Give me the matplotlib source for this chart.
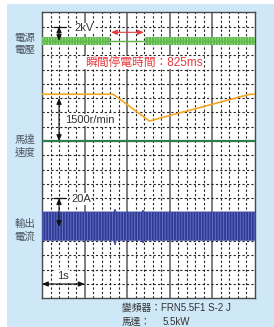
import matplotlib.pyplot as plt
from matplotlib.patches import Rectangle
import numpy as np

plt.rcParams['font.family'] = ['Liberation Sans', 'Noto Sans CJK TC', 'DejaVu Sans']
plt.rcParams['hatch.linewidth'] = 0.7

# supply voltage envelope (kV, 2 kV per division), outage 825 ms
volt_t = [0.0, 1.60, 1.60, 2.425, 2.425, 5.0]
volt_amp = [0.6, 0.6, 0.0, 0.0, 0.6, 0.6]

# motor speed (r/min, 1500 r/min = 3 divisions)
speed_t = [0.0, 1.67, 2.52, 4.88, 5.0]
speed_rpm = [1635, 1635, 700, 1635, 1635]

# output current envelope (A, 20 A = 2 divisions)
cur_t = [0.0, 1.68, 1.70, 1.73, 1.75, 2.34, 2.36, 2.39, 2.41, 5.0]
cur_hi = [10.6, 10.6, 12.4, 12.4, 10.6, 10.6, 11.7, 11.7, 10.6, 10.6]
cur_lo = [-9.7, -9.7, -12.7, -12.7, -9.7, -9.7, -11.3, -11.3, -9.7, -9.7]

# baselines in divisions (from bottom, 20 divisions total)
volt_zero, speed_zero, cur_zero = 18, 11, 5

fig = plt.figure(figsize=(2.74, 3.27), dpi=100)
fig.patch.set_facecolor('white')
fig.patches.append(Rectangle((7 / 274, 0), 1, 323 / 327, transform=fig.transFigure,
                             facecolor='#cfe8f7', edgecolor='none', zorder=-10))

ax = fig.add_axes([42 / 274, 28.7 / 327, 213 / 274, 286 / 327])
ax.set_facecolor('white')
ax.set_xlim(0, 5)
ax.set_ylim(0, 20)
ax.set_xticks(range(1, 5))
ax.set_xticks(np.arange(0, 5.01, 0.2), minor=True)
ax.set_yticks(range(1, 20))
ax.tick_params(which='both', length=0, labelbottom=False, labelleft=False)
ax.grid(which='major', axis='x', color='#5a5a5a', lw=1.1, ls='-')
ax.grid(which='minor', axis='x', color='#222222', lw=0.8, ls=(0, (2, 2)))
ax.grid(which='major', axis='y', color='#222222', lw=0.8, ls=(0, (2, 2)))
ax.set_axisbelow(True)
for s in ax.spines.values():
    s.set_color('#4a4a4a')
    s.set_linewidth(1.0)

# voltage
va = np.array(volt_amp) / 2
ax.fill_between(volt_t, volt_zero - va, volt_zero + va, facecolor='#5cb848',
                edgecolor='#9ad888', hatch='||||||', lw=0, zorder=3)
ax.plot([0, 5], [volt_zero, volt_zero], color='#5cb848', lw=1.0, zorder=3)

# speed
ax.axhline(speed_zero, color='#2f7d4a', lw=1.6, zorder=3)
ax.plot(speed_t, speed_zero + np.array(speed_rpm) / 500, color='#f5a623', lw=1.2, zorder=4)

# current
ax.fill_between(cur_t, cur_zero + np.array(cur_lo) / 10, cur_zero + np.array(cur_hi) / 10,
                facecolor='#2e3a96', edgecolor='#6470c0', hatch='||||||', lw=0, zorder=3)

# scale arrows
arrow = dict(arrowstyle='<|-|>,head_length=0.35,head_width=0.15', color='#111111', lw=0.8,
             shrinkA=0, shrinkB=0)
for y0, y1 in [(19, 18), (14, 11), (7, 5)]:
    ax.annotate('', xy=(0.4, y1), xytext=(0.4, y0), arrowprops=arrow, zorder=6)
for y0 in [19, 7]:
    ax.plot([0.27, 0.53], [y0, y0], color='#111111', lw=0.9, zorder=6)
ax.annotate('', xy=(1, 1), xytext=(0, 1), arrowprops=arrow, zorder=6)
box = dict(facecolor='white', edgecolor='none', pad=0.6)
ax.text(0.75, 18.87, '2kV', fontsize=8, color='#333333', va='center', zorder=5, bbox=box)
ax.text(0.54, 12.46, '1500r/min', fontsize=8, color='#333333', va='center', zorder=5, bbox=box)
ax.text(0.68, 6.94, '20A', fontsize=8, color='#333333', va='center', zorder=5, bbox=box)
ax.text(0.49, 1.56, '1s', fontsize=8, color='#333333', ha='center', va='center', zorder=5,
        bbox=box)

# outage marker
red = '#e8383d'
ax.annotate('', xy=(2.39, 18.6), xytext=(1.62, 18.6),
            arrowprops=dict(arrowstyle='<|-|>,head_length=0.35,head_width=0.15',
                            color=red, lw=0.8, shrinkA=0, shrinkB=0), zorder=6)
ax.text(2.39, 16.48, '瞬間停電時間：825ms', fontsize=8.5, color=red,
        ha='center', va='center', zorder=5, bbox=box)

# left labels
for py, lab in [(44, '電源\n電壓'), (146, '馬達\n速度'), (230, '輸出\n電流')]:
    fig.text(25 / 274, 1 - py / 327, lab, fontsize=7.5, color='#4d5560',
             ha='center', va='center', linespacing=1.35)

fig.text(122 / 274, 1 - 308 / 327, '變頻器：FRN5.5F1 S-2 J', fontsize=7,
         color='#333333', va='center')
fig.text(122 / 274, 1 - 322 / 327, '馬達：', fontsize=7, color='#333333', va='center')
fig.text(163 / 274, 1 - 322 / 327, '5.5kW', fontsize=7, color='#333333', va='center')

fig.savefig('out.png', dpi=100, facecolor=fig.get_facecolor())
